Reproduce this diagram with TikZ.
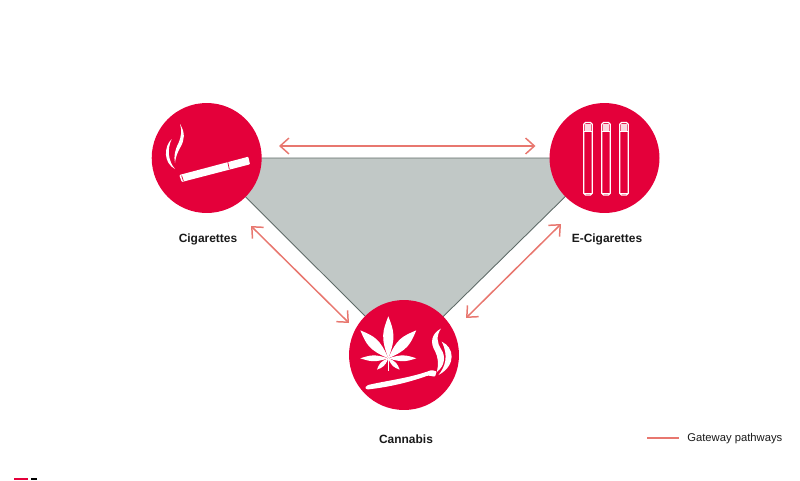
\documentclass[tikz,border=0pt]{standalone}
\usepackage{fontspec}
\setmainfont{Liberation Sans}
\usetikzlibrary{arrows,arrows.meta}
\definecolor{kreis}{RGB}{228, 0, 58}
\definecolor{pfad}{RGB}{232, 119, 111}
\definecolor{dreieck}{RGB}{193, 200, 198}
\definecolor{kante}{RGB}{95, 107, 104}
\definecolor{tinte}{RGB}{25, 25, 25}
\tikzset{
    drug/.style={circle, fill=kreis, minimum size=2.2cm, inner sep=0pt},
    drugname/.style={font=\bfseries\fontsize{6.8}{8}\selectfont, text=tinte},
    pathway/.style={pfad, line width=0.85pt, {Straight Barb[length=5pt,width=9pt]}-{Straight Barb[length=5pt,width=9pt]}},
    tube/.style={draw=white, line width=0.75pt, fill=none}
}

\begin{document}
\begin{tikzpicture}[x=0.02cm, y=-0.02cm]

    \useasboundingbox (0,0) rectangle (800,480);

    % circle centres first, the grey area lies below the circles
    \coordinate (cigC) at (206.7,158);
    \coordinate (ecigC) at (604.5,158);
    \coordinate (canC) at (404,355);
    \draw[fill=dreieck, draw=kante, line width=0.5pt] (cigC) -- (ecigC) -- (canC) -- cycle;

    \node[drug] (cig) at (cigC) {};
    \node[drug] (ecig) at (ecigC) {};
    \node[drug] (can) at (canC) {};

    \node[drugname] (cigName) at (208,239.7) {Cigarettes};
    \node[drugname] (ecigName) at (607,239.7) {E-Cigarettes};
    \node[drugname] (canName) at (406,439.7) {Cannabis};

    \coordinate (topL) at (279,146);
    \coordinate (topR) at (535.5,146);
    \coordinate (leftU) at (251,226);
    \coordinate (leftD) at (349,323);
    \coordinate (rightU) at (561,224);
    \coordinate (rightD) at (466,318);
    \draw[pathway] (topL) -- (topR);
    \draw[pathway] (leftU) -- (leftD);
    \draw[pathway] (rightU) -- (rightD);

    % legend
    \coordinate (legL) at (647,438);
    \coordinate (legR) at (679,438);
    \draw[pfad, line width=0.85pt] (legL) -- (legR);
    \node[anchor=west, inner sep=0pt, text=tinte, font=\fontsize{6.4}{8}\selectfont] (legName) at (687,439) {Gateway pathways};

    % cigarette
    \fill[white, rounded corners=0.5pt] (179.3,175) -- (248.3,156.7) -- (250,164.3) -- (181.7,182) -- cycle;
    \draw[kreis, line width=0.4pt] (227.7,161.7) -- (229.3,169.2);
    \draw[kreis, line width=0.4pt] (181.6,175.5) -- (183.4,181);
    \fill[white] (180,124) .. controls (185.5,133) and (184.5,140) .. (180.5,147) .. controls (177,153) and (175.5,158) .. (175,163) .. controls (173.5,156) and (175,150) .. (178.5,143) .. controls (181.5,136) and (182,130) .. (180,124) -- cycle;
    \fill[white] (171.7,139) .. controls (163.5,147) and (163.5,163) .. (175,169) .. controls (168,161) and (167,149) .. (171.7,139) -- cycle;

    % e-cigarettes
    \foreach \x in {583.7,601.7,619.7} {
        \draw[tube, rounded corners=1pt] (\x,122.5) rectangle ++(8.6,72.5);
        \draw[tube] (\x,131.5) -- ++(8.6,0);
        \draw[tube] (\x,193.3) -- ++(8.6,0);
        \fill[white!85!kreis] (\x+1,123.5) rectangle ++(6.6,7);
    }

    % cannabis leaf
    \coordinate (leaf) at (388.3,358.3);
    \foreach \ang/\len/\wid in {-90/42/8, -135/39.5/8, -45/39.5/8, 180/28/4.5, 0/28/4.5, 135/16/3.5, 45/16/3.5} {
        \begin{scope}[shift={(leaf)}, rotate=-\ang]
            \fill[white] (0,0) .. controls (0.5*\len,\wid) and (0.65*\len,0.7*\wid) .. (\len,0) .. controls (0.65*\len,-0.7*\wid) and (0.5*\len,-\wid) .. (0,0) -- cycle;
        \end{scope}
    }
    \draw[white, line width=0.3pt] (leaf) -- (388.3,371);

    % joint
    \fill[white, rounded corners=0.5pt] (365,387.5) -- (368,385) .. controls (390,380) and (410,378) .. (431.7,370) -- (436.7,371.5) -- (435,376.7) -- (428,375.5) .. controls (410,382) and (390,387) .. (367,389.5) -- cycle;
    \fill[white] (441,328.5) .. controls (431,334) and (430,343) .. (435,351) .. controls (438,357) and (439,364) .. (436.7,372) .. controls (445,366) and (446,356) .. (441,349) .. controls (437,343) and (436,336) .. (441,328.5) -- cycle;
    \fill[white] (441.7,341.7) .. controls (454,347) and (457,365) .. (438.5,375) .. controls (445,367) and (449,356) .. (441.7,341.7) -- cycle;

    % logo at the lower edge
    \fill[kreis] (14,478) rectangle (28,480);
    \fill[black] (31,478) rectangle (37,480);

\end{tikzpicture}
\end{document}
